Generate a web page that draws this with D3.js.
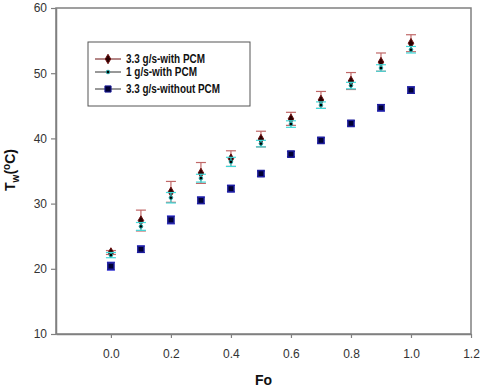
<!DOCTYPE html>
<html>
<head>
<meta charset="UTF-8">
<script src="https://d3js.org/d3.v7.min.js"></script>
<style>
  body { margin: 0; background: #fff; font-family: Arial, "Liberation Sans", sans-serif; }
</style>
</head>
<body>
<div id="chart"></div>
<script>
const fo = [0.0, 0.1, 0.2, 0.3, 0.4, 0.5, 0.6, 0.7, 0.8, 0.9, 1.0];
const withPcm33 = [22.5, 27.4, 31.8, 34.7, 36.9, 39.9, 43.0, 45.9, 48.8, 51.7, 54.6];
const withPcm33Err = [0.3, 1.6, 1.6, 1.6, 1.2, 1.2, 1.0, 1.3, 1.3, 1.4, 1.3];
const withPcm1 = [22.1, 26.5, 30.9, 33.9, 36.4, 39.2, 42.2, 45.1, 48.1, 50.8, 53.6];
const withPcm1Err = [0.4, 0.6, 0.8, 0.6, 0.7, 0.5, 0.5, 0.5, 0.5, 0.5, 0.5];
const noPcm33 = [20.4, 23.0, 27.5, 30.5, 32.3, 34.6, 37.6, 39.7, 42.3, 44.7, 47.4];
const noPcm33Err = [0.6, 0.5, 0.6, 0.5, 0.5, 0.4, 0.4, 0.4, 0.4, 0.5, 0.5];
const seriesNames = ["3.3 g/s-with PCM", "1 g/s-with PCM", "3.3 g/s-without PCM"];
const xTicks = [0.0, 0.2, 0.4, 0.6, 0.8, 1.0, 1.2];
const yTicks = [10, 20, 30, 40, 50, 60];

const W = 480, H = 390;
const margin = {top: 8, right: 9, bottom: 56, left: 56};
const width = W - margin.left - margin.right,
      height = H - margin.top - margin.bottom;

const svg = d3.select("#chart").append("svg")
  .attr("width", W).attr("height", H);
const g = svg.append("g").attr("transform", `translate(${margin.left},${margin.top})`);

const x = d3.scaleLinear().domain([-0.183, 1.2]).range([0, width]);
const y = d3.scaleLinear().domain([10, 60]).range([height, 0]);

const axisColor = "#808080";

// frame
g.append("rect").attr("x", 0).attr("y", 0).attr("width", width).attr("height", height)
  .attr("fill", "none").attr("stroke", axisColor).attr("stroke-width", 1.5);

const xAxis = g.append("g").attr("transform", `translate(0,${height})`)
  .call(d3.axisBottom(x).tickValues(xTicks).tickFormat(d3.format(".1f")).tickSize(4).tickPadding(11).tickSizeOuter(0));
const yAxis = g.append("g")
  .call(d3.axisLeft(y).tickValues(yTicks).tickSize(5).tickPadding(4).tickSizeOuter(0));
[xAxis, yAxis].forEach(a => {
  a.select(".domain").attr("stroke", axisColor).attr("stroke-width", 1.5);
  a.selectAll(".tick line").attr("stroke", axisColor).attr("stroke-width", 1.2);
  a.selectAll(".tick text").attr("fill", "#333").style("font-size", "12px")
    .style("font-family", "Arial, 'Liberation Sans', sans-serif");
});

// axis titles
svg.append("text").attr("x", margin.left + width / 2).attr("y", 385)
  .attr("text-anchor", "middle").style("font-size", "14px").style("font-weight", "bold")
  .attr("fill", "#111").text("Fo");
const yl = svg.append("text").attr("transform", `translate(15,${170}) rotate(-90)`)
  .attr("text-anchor", "middle").style("font-size", "14px").style("font-weight", "bold").attr("fill", "#111");
yl.append("tspan").text("T");
yl.append("tspan").attr("dy", 4).style("font-size", "10px").text("w");
yl.append("tspan").attr("dy", -4).text("(");
yl.append("tspan").attr("dy", -5).style("font-size", "10px").text("o");
yl.append("tspan").attr("dy", 5).text("C)");

function errorBars(vals, errs, color, cap) {
  const eg = g.append("g").attr("stroke", color).attr("stroke-width", 1.2);
  fo.forEach((f, i) => {
    const cx = x(f), y1 = y(vals[i] + errs[i]), y2 = y(vals[i] - errs[i]);
    eg.append("line").attr("x1", cx).attr("x2", cx).attr("y1", y1).attr("y2", y2);
    eg.append("line").attr("x1", cx - cap).attr("x2", cx + cap).attr("y1", y1).attr("y2", y1);
    eg.append("line").attr("x1", cx - cap).attr("x2", cx + cap).attr("y1", y2).attr("y2", y2);
  });
}

const sym1 = d3.symbol().type(d3.symbolDiamond).size(26);
const sym2 = d3.symbol().type(d3.symbolCircle).size(10);
const sym3 = d3.symbol().type(d3.symbolSquare).size(38);

// series 3: without PCM
errorBars(noPcm33, noPcm33Err, "#2b2bd0", 4);
g.append("g").selectAll("path").data(noPcm33).join("path")
  .attr("d", sym3).attr("transform", (d, i) => `translate(${x(fo[i])},${y(d)})`)
  .attr("fill", "#000033").attr("stroke", "#1c1c9c").attr("stroke-width", 1.5);

// series 1: 3.3 g/s with PCM
errorBars(withPcm33, withPcm33Err, "#c06868", 5);
g.append("g").selectAll("path").data(withPcm33).join("path")
  .attr("d", sym1).attr("transform", (d, i) => `translate(${x(fo[i])},${y(d)})`)
  .attr("fill", "#2a0000").attr("stroke", "#6a0f0f").attr("stroke-width", 1);

// series 2: 1 g/s with PCM
errorBars(withPcm1, withPcm1Err, "#40d8d8", 5);
g.append("g").selectAll("path").data(withPcm1).join("path")
  .attr("d", sym2).attr("transform", (d, i) => `translate(${x(fo[i])},${y(d)})`)
  .attr("fill", "#000").attr("stroke", "#20a0a0").attr("stroke-width", 1);

// legend
const leg = svg.append("g").attr("transform", "translate(88,42)");
leg.append("rect").attr("width", 162).attr("height", 64)
  .attr("fill", "#fff").attr("stroke", "#555").attr("stroke-width", 1);
const legSyms = [
  {sym: sym1, fill: "#2a0000", stroke: "#6a0f0f", line: "#6a0f0f"},
  {sym: sym2, fill: "#000", stroke: "#20a0a0", line: "#333"},
  {sym: sym3, fill: "#000033", stroke: "#1c1c9c", line: "#333"}
];
const legY = [17, 30, 47];
const legW = [79, 71, 94];
seriesNames.forEach((name, i) => {
  const row = leg.append("g").attr("transform", `translate(0,${legY[i]})`);
  row.append("line").attr("x1", 7).attr("x2", 33).attr("stroke", legSyms[i].line).attr("stroke-width", 1);
  row.append("path").attr("d", legSyms[i].sym).attr("transform", "translate(20,0)")
    .attr("fill", legSyms[i].fill).attr("stroke", legSyms[i].stroke).attr("stroke-width", 1);
  row.append("text").attr("x", 38).attr("dy", "0.35em").style("font-size", "12px")
    .style("font-weight", "bold").attr("fill", "#111")
    .attr("textLength", legW[i]).attr("lengthAdjust", "spacingAndGlyphs").text(name);
});
</script>
</body>
</html>
